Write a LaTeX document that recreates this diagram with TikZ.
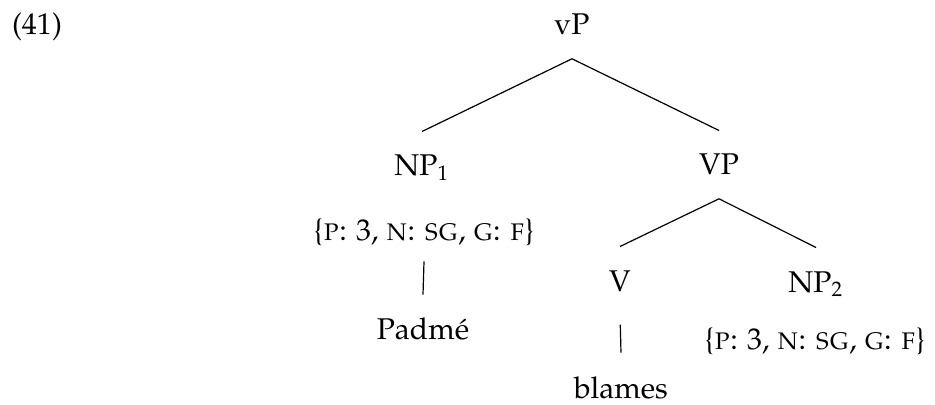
\documentclass[tikz,border=0pt]{standalone}
\usepackage[T1]{fontenc}
\usepackage{palatino}

\begin{document}
\begin{tikzpicture}[%
    x=0.3333pt, y=-0.3333pt,    % one unit is one pixel, y counted downwards
    every node/.style={font=\normalsize},
    ]
% -------------------------------------------------
% Node and branch styles
% <anchor=base> puts every label on its baseline
\tikzset{
  cat/.style={anchor=base, inner xsep=2pt, inner ysep=7.7pt},
  feat/.style={anchor=base, inner xsep=2pt, inner ysep=5.3pt},
  branch/.style={draw, line width=0.4pt},
}
\newcommand{\phif}{\{\textsc{p}: 3, \textsc{n}: \textsc{sg}, \textsc{g}: \textsc{f}\}}
\useasboundingbox (0,0) rectangle (935,405);
% -------------------------------------------------
% Example number and the labels of the tree
\node [anchor=base] (exno) at (37,35) {(41)};
\node [cat] (vP) at (572,35) {vP};
\node [cat] (NP1) at (422,176) {NP\textsubscript{1}};
\node [cat] (VP) at (719,175) {VP};
\node [feat] (feat1) at (424,240) {\phif};
\node [cat] (padme) at (423,340) {Padm\'e};
\node [cat] (V) at (620,291) {V};
\node [cat] (NP2) at (816,292) {NP\textsubscript{2}};
\node [feat] (feat2) at (815,349) {\phif};
\node [cat] (blames) at (621,398) {blames};
% -------------------------------------------------
% Branches
\draw [branch] (vP.south) -- (NP1.north);
\draw [branch] (vP.south) -- (VP.north);
\draw [branch] (VP.south) -- (V.north);
\draw [branch] (VP.south) -- (NP2.north);
\draw [branch] (feat1.south) -- (padme.north);
\draw [branch, shorten <=3.3pt] (V.south) -- (blames.north);
% -------------------------------------------------
\end{tikzpicture}
\end{document}
